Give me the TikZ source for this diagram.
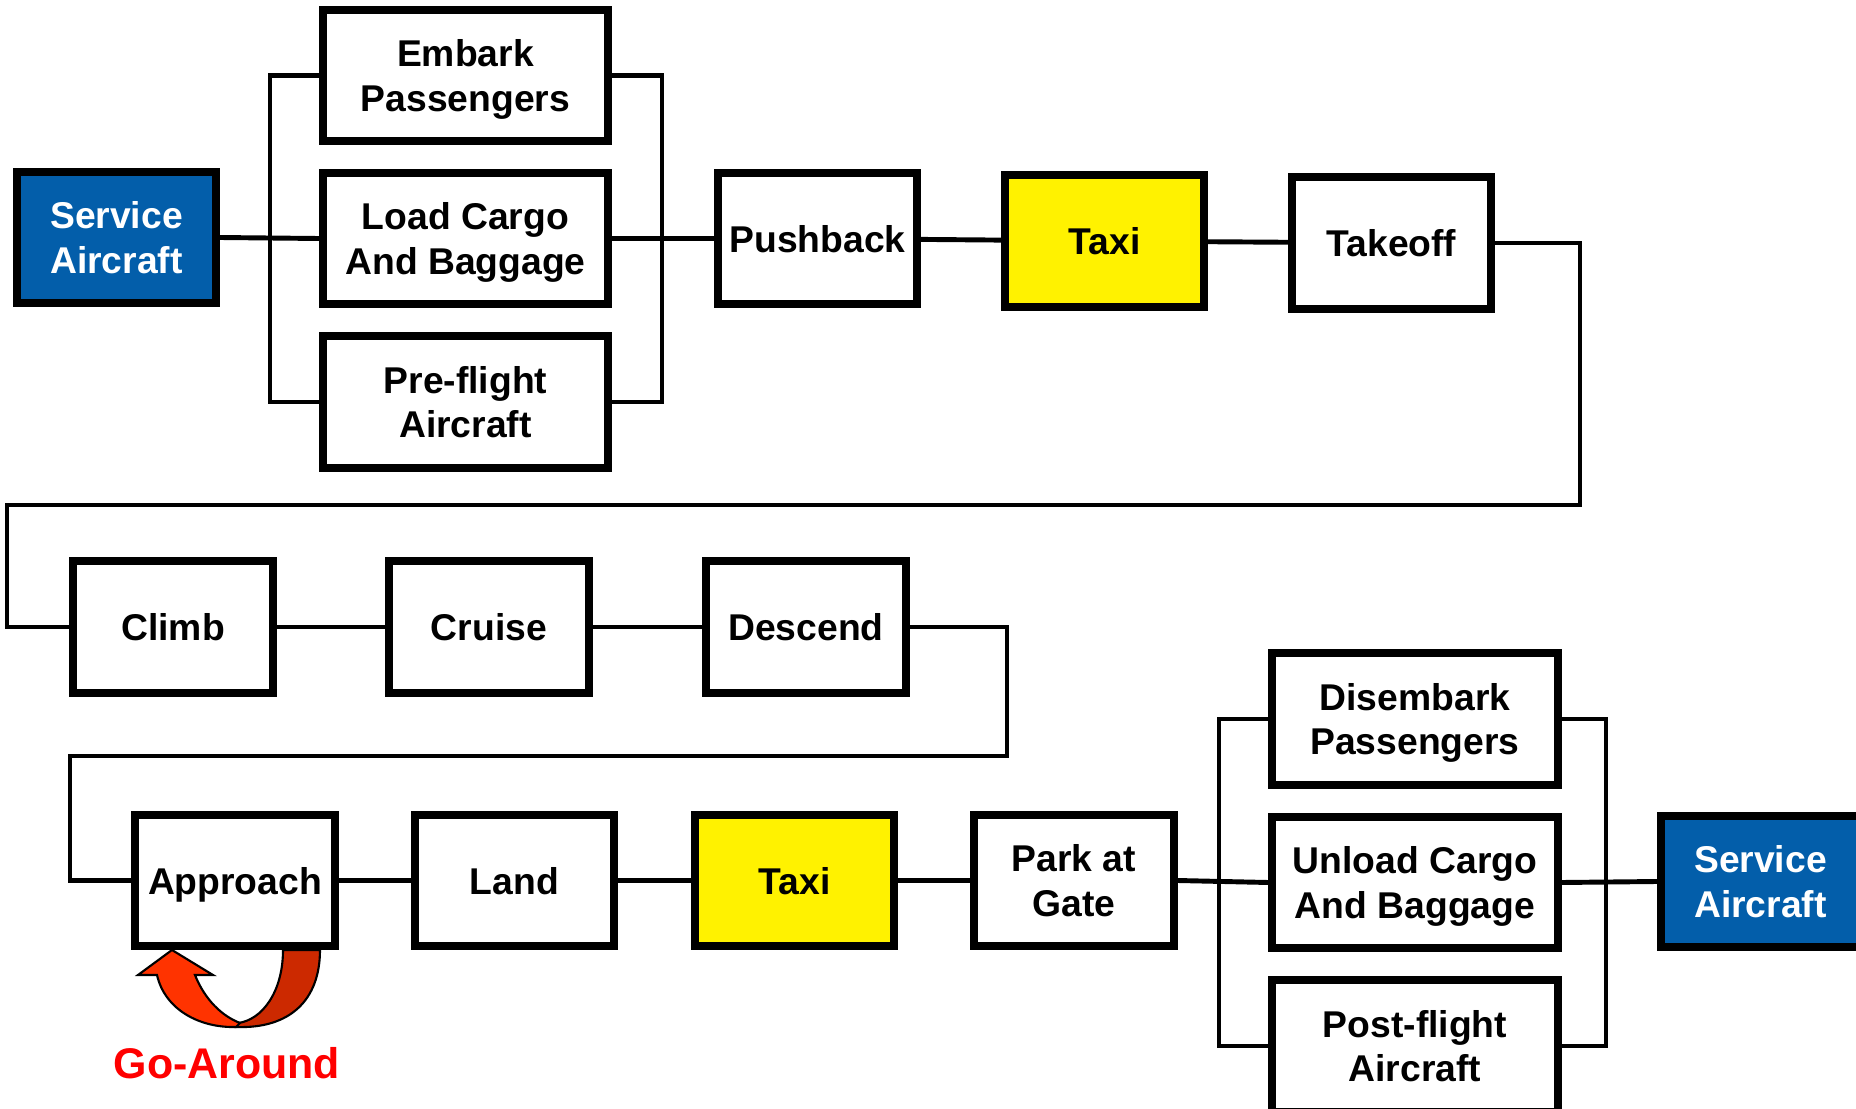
\documentclass[tikz,border=0pt]{standalone}
\usepackage{fontspec}
\setmainfont{Liberation Sans}
\usepackage{tikz}
\definecolor{serviceblue}{RGB}{3,94,170}
\definecolor{goaroundlight}{RGB}{255,51,0}
\definecolor{goarounddark}{RGB}{204,41,0}
\newcommand{\boxstrut}{\rule[-2.3pt]{0pt}{12.3pt}}

\begin{document}
\begin{tikzpicture}[
  x=0.01cm, y=-0.01cm,
  box/.style={draw, line width=2.28pt, minimum width=1.99cm, minimum height=1.31cm, align=center, inner sep=2pt,
    font=\fontsize{10.6}{12.7}\selectfont\bfseries, execute at begin node=\boxstrut, execute at end node=\boxstrut},
  widebox/.style={box, minimum width=2.85cm},
  servicebox/.style={box, fill=serviceblue, text=white},
  taxibox/.style={box, fill=yellow},
  link/.style={line width=1.4pt}
]
\useasboundingbox (0,0) rectangle (1856,1109);

% Departure boxes
\node[servicebox] (sa1) at (116.5,237.5) {\boxstrut Service\\Aircraft};
\node[widebox] (embark) at (465.5,75.5) {\boxstrut Embark\\Passengers};
\node[widebox] (cargo) at (465.5,238.5) {\boxstrut Load Cargo\\And Baggage};
\node[widebox] (preflight) at (465.5,402) {\boxstrut Pre-flight\\Aircraft};
\node[box] (pushback) at (817.5,238.5) {Pushback};
\node[taxibox] (taxia) at (1104.5,241) {Taxi};
\node[box] (takeoff) at (1391.5,243) {Takeoff};

% En-route boxes
\node[box] (climb) at (173,627) {Climb};
\node[box] (cruise) at (489,627) {Cruise};
\node[box] (descend) at (806,627) {Descend};

% Arrival boxes
\node[box] (approach) at (235,880.5) {Approach};
\node[box] (land) at (514.5,880.5) {Land};
\node[taxibox] (taxib) at (794.5,880.5) {Taxi};
\node[box] (park) at (1074,880.5) {\boxstrut Park at\\Gate};
\node[widebox] (disembark) at (1415,719) {\boxstrut Disembark\\Passengers};
\node[widebox] (unload) at (1415,882.5) {\boxstrut Unload Cargo\\And Baggage};
\node[widebox] (postflight) at (1415,1046) {\boxstrut Post-flight\\Aircraft};
\node[servicebox] (sa2) at (1760.5,881.5) {\boxstrut Service\\Aircraft};

% Bus and turn points
\coordinate (busAin) at (270,238);
\coordinate (busAout) at (662,238);
\coordinate (busBin) at (1219,882);
\coordinate (busBout) at (1606,882);
\coordinate (turnA) at (1580,505);
\coordinate (backA) at (7,505);
\coordinate (turnB) at (1007,756);
\coordinate (backB) at (70,756);

% Links
\draw[link] (sa1.east) -- (cargo.west);
\draw[link] (embark.west) -| (busAin) |- (preflight.west);
\draw[link] (embark.east) -| (busAout) |- (preflight.east);
\draw[link] (cargo.east) -- (pushback.west);
\draw[link] (pushback) -- (taxia);
\draw[link] (taxia) -- (takeoff);
\draw[link] (takeoff.east) -| (turnA) -- (backA) |- (climb.west);
\draw[link] (climb) -- (cruise);
\draw[link] (cruise) -- (descend);
\draw[link] (descend.east) -| (turnB) -- (backB) |- (approach.west);
\draw[link] (approach) -- (land);
\draw[link] (land) -- (taxib);
\draw[link] (taxib) -- (park);
\draw[link] (park.east) -- (unload.west);
\draw[link] (disembark.west) -| (busBin) |- (postflight.west);
\draw[link] (disembark.east) -| (busBout) |- (postflight.east);
\draw[link] (unload.east) -- (sa2.west);

% Go-around loop
\draw[line width=0.6pt, fill=goarounddark] (283,950) .. controls (283,992) and (262,1020) .. (238,1023)
  -- (236,1027) .. controls (290,1029) and (320,1000) .. (320,950) -- cycle;
\draw[line width=0.6pt, fill=goaroundlight] (172,950) -- (213,975) -- (195,975)
  .. controls (205,1000) and (222,1016) .. (240,1023) -- (236,1027)
  .. controls (200,1028) and (165,1010) .. (157,975) -- (138,975) -- cycle;
\node[text=red, font=\fontsize{12.2}{14}\selectfont\bfseries] (goaround) at (227,1063) {Go-Around};
\end{tikzpicture}
\end{document}
